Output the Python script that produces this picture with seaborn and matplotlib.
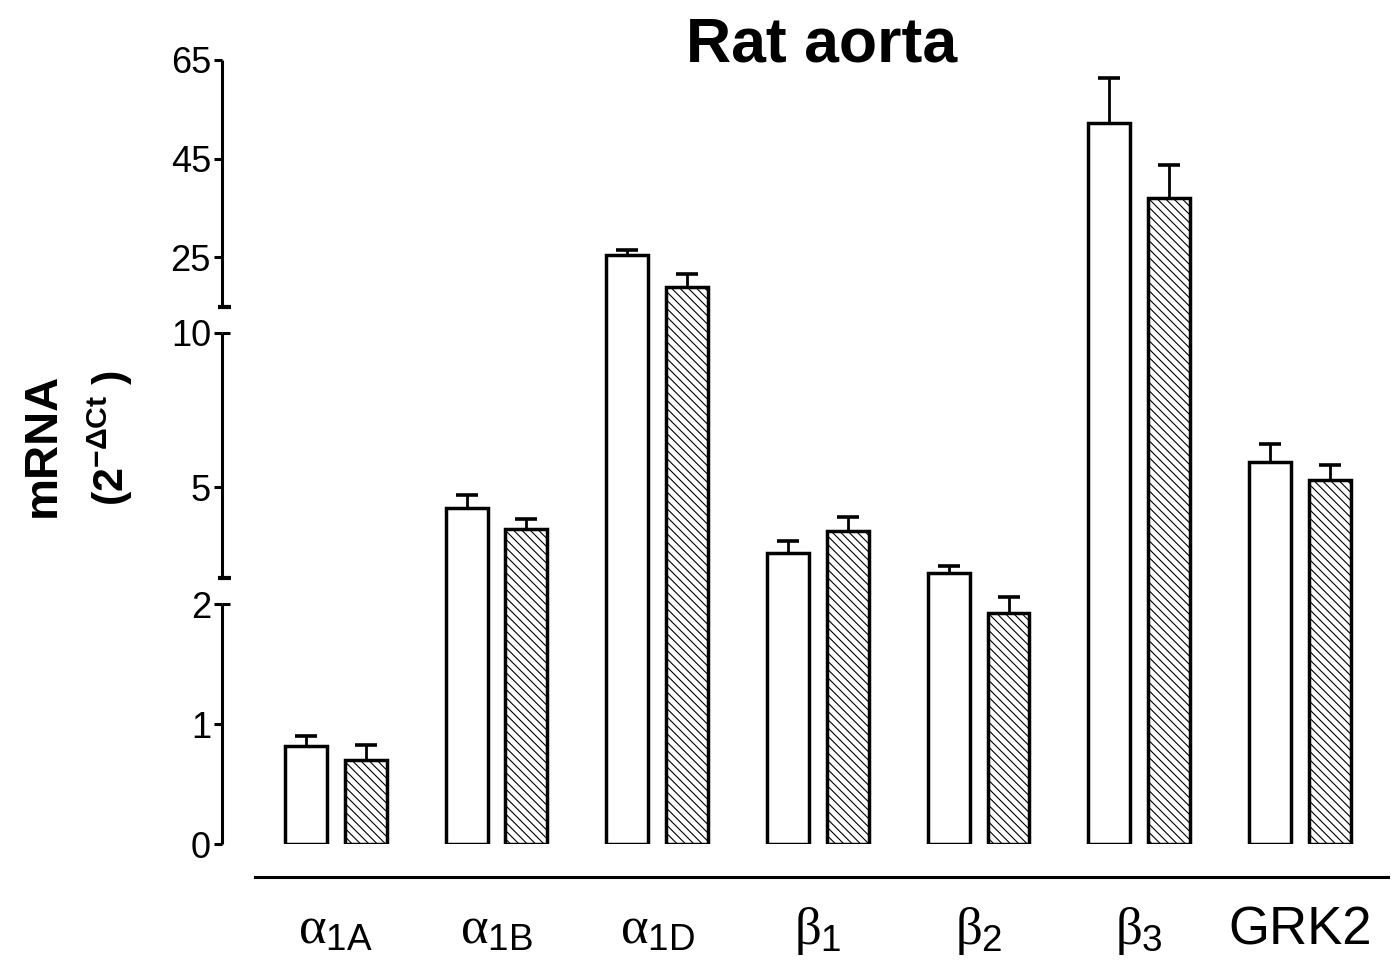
import numpy as np
import pandas as pd
import matplotlib
matplotlib.use("Agg")
import matplotlib.pyplot as plt
from matplotlib.transforms import blended_transform_factory
import seaborn as sns

# ------------------------------------------------------------------
# data
# ------------------------------------------------------------------
receptors = [
    r"$\alpha_{\mathrm{1A}}$",
    r"$\alpha_{\mathrm{1B}}$",
    r"$\alpha_{\mathrm{1D}}$",
    r"$\beta_{\mathrm{1}}$",
    r"$\beta_{\mathrm{2}}$",
    r"$\beta_{\mathrm{3}}$",
    "GRK2",
]
groups = ["Control", "Treated"]
control_mean = [0.82, 4.33, 25.5, 2.86, 2.23, 52.2, 5.82]
control_sem = [0.08, 0.43, 0.9, 0.39, 0.22, 9.1, 0.58]
treated_mean = [0.70, 3.66, 19.0, 3.58, 1.925, 37.0, 5.23]
treated_sem = [0.13, 0.30, 2.7, 0.46, 0.09, 6.7, 0.48]

df = pd.DataFrame({
    "receptor": receptors * 2,
    "group": [groups[0]] * len(receptors) + [groups[1]] * len(receptors),
    "mrna": control_mean + treated_mean,
})

# ------------------------------------------------------------------
# broken y axis as a piecewise linear scale
# ------------------------------------------------------------------
BRK_V = np.array([0, 2, 2.05, 10, 15, 65])
BRK_P = np.array([0, 240, 266, 512, 538, 785])
SEGMENTS = [(0, 2), (2.05, 10), (15, 65)]


def fwd(v):
    v = np.asarray(v, dtype=float)
    out = np.interp(v, BRK_V, BRK_P)
    out = np.where(v < 0, v * 120, out)
    out = np.where(v > 65, 785 + (v - 65) * 4.94, out)
    return out


def inv(p):
    p = np.asarray(p, dtype=float)
    out = np.interp(p, BRK_P, BRK_V)
    out = np.where(p < 0, p / 120, out)
    out = np.where(p > 785, 65 + (p - 785) / 4.94, out)
    return out


sns.set_style("ticks")
plt.rcParams["font.family"] = ["Liberation Sans", "DejaVu Sans"]
plt.rcParams["mathtext.fontset"] = "custom"
plt.rcParams["mathtext.rm"] = "Liberation Sans"
plt.rcParams["mathtext.it"] = "Liberation Serif"
plt.rcParams["mathtext.bf"] = "Liberation Sans:bold"
plt.rcParams["hatch.color"] = "black"
plt.rcParams["hatch.linewidth"] = 0.8
for key in ["text.color", "axes.labelcolor", "xtick.color", "ytick.color", "axes.edgecolor"]:
    plt.rcParams[key] = "black"

fig = plt.figure(figsize=(13.95, 9.63), dpi=100)
ax = fig.add_axes([222 / 1395, 1 - 844 / 963, (1390 - 222) / 1395, (844 - 60) / 963])

sns.barplot(
    data=df, x="receptor", y="mrna", hue="group",
    order=receptors, hue_order=groups,
    palette=["white", "white"], edgecolor="black", linewidth=2.5,
    width=0.745, gap=0.3, errorbar=None, legend=False, ax=ax,
)
for bar in ax.containers[1]:
    bar.set_hatch("\\\\\\\\")

# upper error bars only
for cont, means, sems in zip(ax.containers, [control_mean, treated_mean], [control_sem, treated_sem]):
    xs = [b.get_x() + b.get_width() / 2 for b in cont]
    _, caps, _ = ax.errorbar(
        xs, means, yerr=[np.zeros(len(sems)), sems], fmt="none",
        ecolor="black", elinewidth=2.0, capsize=8, capthick=2.6, zorder=3,
    )
    caps[0].set_visible(False)

ax.set_yscale("function", functions=(fwd, inv))
ax.set_ylim(0, 65)
ax.set_xlim(-0.708, 6.56)

# y axis drawn piece by piece
for s in ["left", "top", "right"]:
    ax.spines[s].set_visible(False)
trans = blended_transform_factory(ax.transAxes, ax.transData)
px = 1 / 1168
for lo, hi in SEGMENTS:
    ax.plot([0, 0], [lo, hi], transform=trans, color="black", lw=2.2,
            clip_on=False, solid_capstyle="butt")
    if lo > 0:
        ax.plot([-4 * px, 9 * px], [lo, lo], transform=trans, color="black",
                lw=3, clip_on=False, solid_capstyle="butt")
    if hi < 65:
        ax.plot([0, 8 * px], [hi, hi], transform=trans, color="black",
                lw=2.2, clip_on=False, solid_capstyle="butt")

ax.set_yticks([0, 1, 2, 5, 10, 25, 45, 65])
ax.set_yticklabels(["0", "1", "2", "5", "10", "25", "45", "65"])
ax.yaxis.set_minor_locator(matplotlib.ticker.NullLocator())
ax.tick_params(axis="y", length=6, width=2.2, labelsize=26, pad=2)

ax.spines["bottom"].set_position(("outward", 24))
ax.spines["bottom"].set_bounds(-0.503, 6.547)
ax.spines["bottom"].set_linewidth(2.2)
ax.tick_params(axis="x", length=0, labelsize=38, pad=20)
ax.set_xlabel("")
ax.set_ylabel("")

fig.text(822 / 1395, 1 - 45 / 963, "Rat aorta", ha="center", va="center",
         fontsize=45, fontweight="bold")
fig.text(43 / 1395, 1 - 445 / 963, "mRNA", ha="center", va="center",
         rotation=90, fontsize=34, fontweight="bold")
fig.text(110 / 1395, 1 - 438 / 963, r"$\mathbf{(2^{-\Delta Ct}\ )}$",
         ha="center", va="center", rotation=90, fontsize=31)

fig.savefig("out.png", dpi=100)
